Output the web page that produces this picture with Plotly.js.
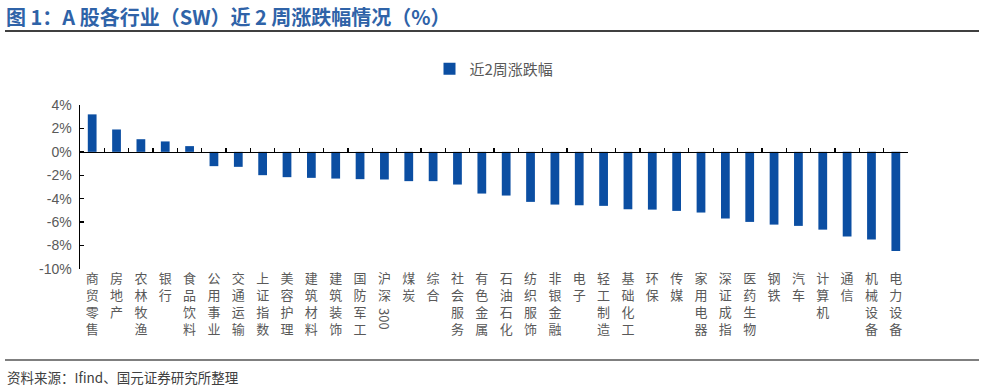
<!DOCTYPE html>
<html><head><meta charset="utf-8">
<script src="https://cdn.plot.ly/plotly-3.0.1.min.js"></script>
<style>html,body{margin:0;padding:0;background:#fff;}#c{width:984px;height:388px;}</style>
</head><body><div id="c"></div>
<script>
const categories = ["商贸零售","房地产","农林牧渔","银行","食品饮料","公用事业","交通运输","上证指数","美容护理","建筑材料","建筑装饰","国防军工","沪深300","煤炭","综合","社会服务","有色金属","石油石化","纺织服饰","非银金融","电子","轻工制造","基础化工","环保","传媒","家用电器","深证成指","医药生物","钢铁","汽车","计算机","通信","机械设备","电力设备"];
const values = [3.2,1.91,1.08,0.89,0.49,-1.22,-1.28,-1.99,-2.16,-2.22,-2.28,-2.33,-2.36,-2.5,-2.5,-2.79,-3.56,-3.73,-4.27,-4.5,-4.56,-4.61,-4.9,-4.93,-5.04,-5.18,-5.69,-5.98,-6.21,-6.32,-6.64,-7.23,-7.49,-8.46];
const seriesName = "近2周涨跌幅";
const yTickVals = [4,2,0,-2,-4,-6,-8,-10];
const titleText = "图 1：A 股各行业（SW）近 2 周涨跌幅情况（%）";
const sourceText = "资料来源：Ifind、国元证券研究所整理";

// CJK characters stacked vertically; a trailing run of digits is drawn rotated separately
function splitLabel(s){
  const m = s.match(/^(.*?)([0-9]+)$/);
  if(m) return {chars:m[1], digits:m[2]};
  return {chars:s, digits:""};
}
const split = categories.map(splitLabel);
const tickText = split.map(p => p.chars.split("").join("<br>"));

const L=80, R=908, T=105, B=269, W=984, H=388;
const px = x => (x-L)/(R-L);
const py = y => (B-y)/(B-T);

const ymin=-10, ymax=4;
const trace = {
  type:"bar", x:categories, y:values, name:seriesName,
  marker:{color:"#0b4ea2"}, xaxis:"x", yaxis:"y",
  hoverinfo:"skip"
};
const dummy = {
  type:"scatter", mode:"none", x:categories, y:values, xaxis:"x2", yaxis:"y",
  showlegend:false, hoverinfo:"skip"
};

const annotations = [
  {xref:"paper", yref:"paper", x:px(4), y:py(16), xanchor:"left", yanchor:"middle",
   text:"<b>"+titleText+"</b>", showarrow:false,
   font:{family:"Noto Sans CJK SC, sans-serif", size:20, color:"#2f63a8"}},
  {xref:"paper", yref:"paper", x:px(5), y:py(377), xanchor:"left", yanchor:"middle",
   text:sourceText, showarrow:false,
   font:{family:"Noto Sans CJK SC, sans-serif", size:13.5, color:"#404040"}}
];
split.forEach((p,i)=>{
  if(p.digits){
    const nChars = p.chars.length;
    annotations.push({xref:"x", yref:"paper", x:categories[i],
      y:py(275 + nChars*15.2 + 1), xanchor:"center", yanchor:"top",
      text:p.digits, textangle:90, showarrow:false,
      font:{family:"Noto Sans CJK SC, sans-serif", size:13, color:"#595959"}});
  }
});

const layout = {
  width:W, height:H,
  margin:{l:L, r:W-R, t:T, b:H-B, pad:0},
  paper_bgcolor:"#fff", plot_bgcolor:"rgba(0,0,0,0)",
  bargap:0.64,
  showlegend:true,
  legend:{orientation:"h", x:0.5, xanchor:"center", y:py(69), yanchor:"middle",
    font:{family:"Noto Sans CJK SC, sans-serif", size:15, color:"#595959"},
    itemwidth:12},
  xaxis:{type:"category", categoryorder:"array", categoryarray:categories,
    tickvals:categories, ticktext:tickText,
    showline:false, ticks:"", showgrid:false, zeroline:false, tickangle:0,
    tickfont:{family:"Noto Sans CJK SC, sans-serif", size:13, color:"#595959"},
    fixedrange:true},
  xaxis2:{type:"category", matches:"x", overlaying:"x", anchor:"free",
    position:(0-ymin)/(ymax-ymin), showticklabels:false,
    showline:true, linecolor:"#000", linewidth:1.5,
    ticks:"inside", ticklen:4, tickcolor:"#000", tickwidth:1.3, tickson:"boundaries",
    showgrid:false, zeroline:false},
  yaxis:{range:[ymin,ymax], tickvals:yTickVals, ticktext:yTickVals.map(v=>v+"%"),
    showline:true, linecolor:"#000", linewidth:1.5, ticks:"inside", ticklen:4,
    tickcolor:"#000", tickwidth:1.3, showgrid:false, zeroline:false,
    tickfont:{family:"Liberation Sans, Arial, sans-serif", size:14, color:"#595959"},
    ticklabelstandoff:4},
  annotations:annotations,
  shapes:[
    {type:"line", xref:"paper", yref:"paper", x0:px(5), x1:px(979), y0:py(31), y1:py(31),
     line:{color:"#000", width:1.5}},
    {type:"line", xref:"paper", yref:"paper", x0:px(5), x1:px(979), y0:py(360), y1:py(360),
     line:{color:"#000", width:1.2}}
  ]
};
Plotly.newPlot("c",[trace,dummy],layout,{displayModeBar:false, staticPlot:true});
</script></body></html>
